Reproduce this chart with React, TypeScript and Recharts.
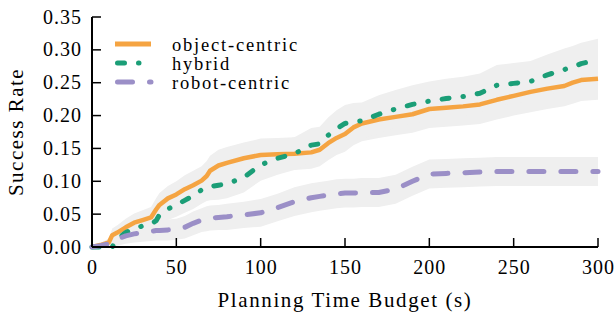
import { Area, ComposedChart, Legend, Line, XAxis, YAxis } from "recharts";

// planning time budget (s) at which the curves were sampled
const BUDGET = [
  0, 5, 10, 12, 15, 20, 25, 30, 35, 38, 40, 45, 50, 55, 60, 65, 68, 70, 75, 80, 90, 100, 110, 120, 130, 135,
  140, 145, 150, 155, 160, 170, 180, 190, 200, 210, 220, 230, 240, 250, 260, 270, 280, 285, 290, 300,
];

// success rate per approach
const OBJECT_CENTRIC = [
  0, 0.003, 0.007, 0.018, 0.022, 0.03, 0.037, 0.041, 0.045, 0.057, 0.064, 0.074, 0.08, 0.088, 0.094, 0.101, 0.108,
  0.116, 0.124, 0.128, 0.135, 0.14, 0.141, 0.142, 0.144, 0.148, 0.158, 0.166, 0.172, 0.182, 0.188, 0.194, 0.198,
  0.202, 0.21, 0.212, 0.214, 0.217, 0.224, 0.23, 0.236, 0.241, 0.245, 0.25, 0.254, 0.256,
];
const HYBRID = [
  0, 0, 0, 0, 0.012, 0.022, 0.028, 0.032, 0.035, 0.04, 0.049, 0.058, 0.064, 0.071, 0.078, 0.087, 0.091, 0.092,
  0.094, 0.096, 0.106, 0.125, 0.135, 0.142, 0.155, 0.157, 0.17, 0.18, 0.188, 0.191, 0.192, 0.202, 0.21, 0.217,
  0.222, 0.226, 0.229, 0.234, 0.246, 0.249, 0.252, 0.262, 0.27, 0.274, 0.279, 0.285,
];
const ROBOT_CENTRIC = [
  0, 0.002, 0.005, 0.008, 0.012, 0.017, 0.02, 0.022, 0.024, 0.025, 0.025, 0.026, 0.027, 0.03, 0.036, 0.041, 0.043,
  0.044, 0.045, 0.046, 0.049, 0.052, 0.06, 0.069, 0.075, 0.077, 0.079, 0.081, 0.082, 0.082, 0.083, 0.083, 0.088,
  0.1, 0.111, 0.112, 0.113, 0.114, 0.115, 0.115, 0.115, 0.115, 0.115, 0.115, 0.115, 0.115,
];

// half width of the shaded band around each curve
const OBJECT_CENTRIC_HW = [
  0, 0.003, 0.006, 0.01, 0.011, 0.013, 0.014, 0.015, 0.016, 0.017, 0.018, 0.019, 0.02, 0.021, 0.022, 0.022, 0.023,
  0.023, 0.024, 0.024, 0.024, 0.025, 0.025, 0.025, 0.025, 0.025, 0.026, 0.026, 0.027, 0.027, 0.027, 0.028, 0.028,
  0.028, 0.029, 0.029, 0.029, 0.03, 0.03, 0.03, 0.031, 0.031, 0.031, 0.032, 0.032, 0.032,
];
const HYBRID_HW = [
  0, 0, 0, 0, 0.008, 0.011, 0.012, 0.013, 0.014, 0.015, 0.016, 0.017, 0.018, 0.019, 0.02, 0.021, 0.021, 0.021,
  0.022, 0.022, 0.023, 0.024, 0.025, 0.025, 0.026, 0.026, 0.027, 0.028, 0.028, 0.028, 0.028, 0.029, 0.029, 0.029,
  0.03, 0.03, 0.03, 0.03, 0.031, 0.031, 0.031, 0.031, 0.032, 0.032, 0.032, 0.032,
];
const ROBOT_CENTRIC_HW = [
  0, 0.003, 0.006, 0.008, 0.01, 0.012, 0.013, 0.014, 0.015, 0.015, 0.015, 0.016, 0.016, 0.017, 0.018, 0.018, 0.019,
  0.019, 0.019, 0.02, 0.02, 0.021, 0.021, 0.022, 0.022, 0.022, 0.022, 0.022, 0.022, 0.022, 0.022, 0.022, 0.022,
  0.022, 0.022, 0.022, 0.022, 0.022, 0.022, 0.022, 0.022, 0.022, 0.022, 0.022, 0.022, 0.022,
];

const X_TICKS = [0, 50, 100, 150, 200, 250, 300];
const Y_TICKS = [0, 0.05, 0.1, 0.15, 0.2, 0.25, 0.3, 0.35];

const SERIES = [
  { key: "obj", name: "object-centric", color: "#f5a442", dash: undefined, cap: "butt", values: OBJECT_CENTRIC, hw: OBJECT_CENTRIC_HW },
  { key: "hyb", name: "hybrid", color: "#1b9e77", dash: "7 14 0.5 14", cap: "round", values: HYBRID, hw: HYBRID_HW },
  { key: "rob", name: "robot-centric", color: "#9b8fc7", dash: "15 17", cap: "round", values: ROBOT_CENTRIC, hw: ROBOT_CENTRIC_HW },
];

const data = BUDGET.map((t, i) => {
  const row: any = { t };
  SERIES.forEach((s) => {
    row[s.key] = s.values[i];
    row[s.key + "Band"] = [Math.max(0, s.values[i] - s.hw[i]), s.values[i] + s.hw[i]];
  });
  return row;
});

const TXT = { fontFamily: '"Liberation Serif", "DejaVu Serif", "Noto Serif", "Times New Roman", serif' };

function XTick({ x, y, payload }: any) {
  return (
    <g>
      <line x1={x} x2={x} y1={y} y2={y - 9} stroke="#000" strokeWidth={1.5} />
      <text x={x + 0.5} y={y + 27} textAnchor="middle" style={TXT} fontSize={20} letterSpacing={1} fill="#000">
        {payload.value}
      </text>
    </g>
  );
}

function YTick({ x, y, payload }: any) {
  return (
    <g>
      <line x1={x} x2={x + 9} y1={y} y2={y} stroke="#000" strokeWidth={1.5} />
      <text x={x - 10} y={y + 6.5} textAnchor="end" style={TXT} fontSize={20} letterSpacing={1} fill="#000">
        {Number(payload.value).toFixed(2)}
      </text>
    </g>
  );
}

function LegendBox() {
  return (
    <svg width={240} height={72}>
      {SERIES.map((s, i) => (
        <g key={s.key}>
          <line
            x1={s.cap === "round" ? 7.5 : 5}
            x2={41}
            y1={12 + i * 19}
            y2={12 + i * 19}
            stroke={s.color}
            strokeWidth={5}
            strokeDasharray={s.dash}
            strokeLinecap={s.cap as any}
          />
          <text x={62} y={18.5 + i * 19} style={TXT} fontSize={18.5} letterSpacing={1.8} fill="#000">
            {s.name}
          </text>
        </g>
      ))}
    </svg>
  );
}

export default function App() {
  return (
    <div style={{ position: "absolute", left: 0, top: 0, width: 616, height: 312, background: "#fff", ...TXT }}>
      <ComposedChart width={616} height={312} data={data} margin={{ top: 17, right: 18, bottom: 0, left: 0 }}>
        <XAxis
          dataKey="t"
          type="number"
          domain={[0, 300]}
          ticks={X_TICKS}
          interval={0}
          height={65}
          tickSize={0}
          tickMargin={0}
          tickLine={false}
          axisLine={{ stroke: "#000", strokeWidth: 2 }}
          tick={<XTick />}
          label={{
            content: ({ viewBox }: any) => (
              <text
                x={345}
                y={viewBox.y + 60}
                textAnchor="middle"
                style={TXT}
                fontSize={21}
                letterSpacing={1.6}
                fill="#000"
              >
                Planning Time Budget (s)
              </text>
            ),
          }}
        />
        <YAxis
          type="number"
          domain={[0, 0.35]}
          ticks={Y_TICKS}
          interval={0}
          width={92}
          tickSize={0}
          tickMargin={0}
          tickLine={false}
          axisLine={{ stroke: "#000", strokeWidth: 2 }}
          tick={<YTick />}
          label={{
            content: ({ viewBox }: any) => (
              <text
                transform="rotate(-90)"
                x={-(viewBox.y + viewBox.height / 2)}
                y={viewBox.x + 23}
                textAnchor="middle"
                style={TXT}
                fontSize={21}
                letterSpacing={1.5}
                fill="#000"
              >
                Success Rate
              </text>
            ),
          }}
        />
        {SERIES.map((s) => (
          <Area
            key={s.key + "Band"}
            dataKey={s.key + "Band"}
            type="linear"
            stroke="none"
            fill="#efefef"
            fillOpacity={1}
            dot={false}
            activeDot={false}
            isAnimationActive={false}
          />
        ))}
        {SERIES.map((s) => (
          <Line
            key={s.key}
            dataKey={s.key}
            name={s.name}
            type="linear"
            stroke={s.color}
            strokeWidth={s.key === "obj" ? 4.5 : 5}
            strokeDasharray={s.dash}
            strokeLinecap={s.cap as any}
            strokeLinejoin="round"
            dot={false}
            activeDot={false}
            isAnimationActive={false}
          />
        ))}
        <Legend
          layout="horizontal"
          verticalAlign="middle"
          align="center"
          wrapperStyle={{ top: 32, left: 110, width: 240, height: 72 }}
          content={() => <LegendBox />}
        />
      </ComposedChart>
    </div>
  );
}
